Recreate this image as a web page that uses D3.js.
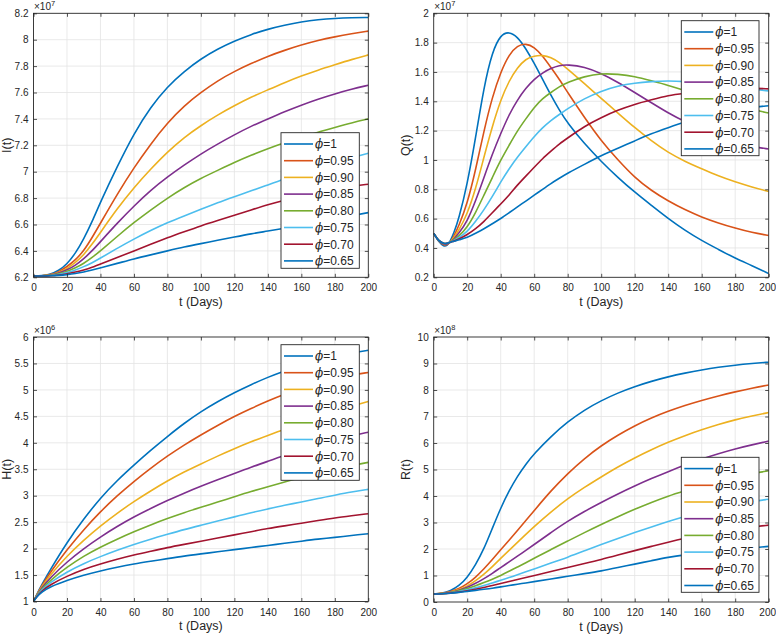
<!DOCTYPE html>
<html><head><meta charset="utf-8">
<script src="https://cdn.jsdelivr.net/npm/d3@7"></script>
<style>
html,body{margin:0;padding:0;background:#fff;}
svg text{font-family:"Liberation Sans",Arial,Helvetica,sans-serif;fill:#262626;}
</style></head>
<body><svg id="c" width="776" height="635"></svg>
<script>
const phiLabels = ["1","0.95","0.90","0.85","0.80","0.75","0.70","0.65"];
const colors = ["#0072BD","#D95319","#EDB120","#7E2F8E","#77AC30","#4DBEEE","#A2142F","#0072BD"];
const xTicks = [0,20,40,60,80,100,120,140,160,180,200];

// I(t), x1e7
const tI = [0,5,10,15,20,25,30,35,40,50,60,70,80,90,100,110,120,130,140,150,160,170,180,190,200];
const I_1    = [6.21,6.212,6.222,6.25,6.30,6.38,6.49,6.62,6.77,7.04,7.29,7.49,7.645,7.76,7.855,7.93,7.99,8.04,8.08,8.11,8.135,8.152,8.162,8.167,8.168];
const I_095  = [6.21,6.211,6.218,6.24,6.28,6.33,6.40,6.50,6.61,6.83,7.03,7.21,7.37,7.50,7.60,7.69,7.76,7.82,7.875,7.92,7.96,7.995,8.022,8.045,8.065];
const I_090  = [6.21,6.211,6.216,6.235,6.265,6.31,6.37,6.45,6.54,6.72,6.88,7.02,7.15,7.26,7.35,7.43,7.50,7.565,7.62,7.675,7.725,7.77,7.81,7.85,7.885];
const I_085  = [6.21,6.21,6.215,6.23,6.255,6.29,6.34,6.40,6.47,6.61,6.74,6.86,6.96,7.05,7.135,7.21,7.28,7.345,7.40,7.455,7.505,7.55,7.59,7.625,7.655];
const I_080  = [6.21,6.21,6.214,6.225,6.245,6.27,6.305,6.35,6.40,6.51,6.615,6.71,6.80,6.88,6.95,7.01,7.07,7.125,7.175,7.22,7.26,7.30,7.335,7.37,7.40];
const I_075  = [6.21,6.21,6.213,6.22,6.235,6.255,6.28,6.31,6.345,6.42,6.49,6.555,6.615,6.665,6.715,6.765,6.81,6.855,6.90,6.945,6.985,7.03,7.07,7.105,7.14];
const I_070  = [6.21,6.21,6.212,6.217,6.226,6.24,6.255,6.275,6.30,6.35,6.40,6.45,6.50,6.545,6.59,6.63,6.67,6.71,6.75,6.785,6.815,6.845,6.87,6.89,6.905];
const I_065  = [6.21,6.21,6.211,6.214,6.22,6.228,6.24,6.255,6.272,6.305,6.34,6.37,6.40,6.43,6.455,6.48,6.505,6.53,6.55,6.572,6.595,6.62,6.643,6.667,6.69];
const I_yTicks = [6.2,6.4,6.6,6.8,7,7.2,7.4,7.6,7.8,8,8.2];

// Q(t), x1e7
const tQ = [0,3,6,8,10,12,15,20,25,30,35,40,45,50,55,60,65,70,75,80,90,100,110,120,130,140,150,160,170,180,190,200];
const Q_1    = [0.50,0.44,0.41,0.415,0.45,0.50,0.60,0.83,1.15,1.50,1.74,1.855,1.875,1.84,1.76,1.66,1.55,1.44,1.34,1.25,1.11,0.99,0.88,0.78,0.69,0.60,0.52,0.45,0.39,0.33,0.28,0.225];
const Q_095  = [0.50,0.445,0.42,0.42,0.44,0.48,0.55,0.70,0.93,1.20,1.43,1.60,1.72,1.78,1.795,1.77,1.71,1.63,1.55,1.46,1.29,1.13,1.00,0.88,0.79,0.72,0.66,0.61,0.57,0.535,0.505,0.485];
const Q_090  = [0.50,0.445,0.425,0.425,0.44,0.47,0.52,0.63,0.80,1.02,1.23,1.41,1.54,1.63,1.69,1.71,1.715,1.70,1.665,1.62,1.52,1.42,1.32,1.22,1.13,1.05,0.99,0.94,0.89,0.85,0.815,0.785];
const Q_085  = [0.50,0.445,0.425,0.425,0.44,0.46,0.50,0.58,0.72,0.88,1.04,1.18,1.31,1.41,1.49,1.55,1.595,1.625,1.645,1.65,1.635,1.59,1.53,1.46,1.39,1.32,1.26,1.21,1.16,1.12,1.09,1.075];
const Q_080  = [0.50,0.445,0.43,0.43,0.44,0.455,0.48,0.54,0.64,0.76,0.88,1.00,1.10,1.20,1.28,1.36,1.42,1.46,1.50,1.53,1.57,1.59,1.585,1.57,1.54,1.51,1.47,1.44,1.40,1.37,1.345,1.32];
const Q_075  = [0.50,0.445,0.43,0.43,0.44,0.45,0.47,0.51,0.58,0.66,0.75,0.85,0.94,1.02,1.09,1.16,1.22,1.27,1.31,1.35,1.42,1.47,1.505,1.525,1.535,1.54,1.535,1.525,1.51,1.50,1.485,1.47];
const Q_070  = [0.50,0.445,0.43,0.43,0.44,0.445,0.46,0.49,0.53,0.58,0.64,0.70,0.76,0.83,0.89,0.95,1.01,1.06,1.11,1.15,1.23,1.29,1.34,1.38,1.41,1.44,1.455,1.47,1.48,1.485,1.49,1.485];
const Q_065  = [0.50,0.445,0.43,0.43,0.44,0.445,0.455,0.47,0.50,0.53,0.565,0.60,0.64,0.68,0.72,0.76,0.80,0.84,0.875,0.91,0.97,1.03,1.08,1.13,1.18,1.22,1.26,1.29,1.32,1.34,1.36,1.37];
const Q_yTicks = [0.2,0.4,0.6,0.8,1,1.2,1.4,1.6,1.8,2];

// H(t), x1e6
const tH = [0,2,5,10,20,30,40,50,60,70,80,90,100,110,120,130,140,150,160,170,180,190,200];
const H_1    = [1.0,1.14,1.32,1.60,2.12,2.56,2.96,3.29,3.58,3.86,4.12,4.37,4.59,4.78,4.95,5.10,5.24,5.36,5.47,5.56,5.635,5.70,5.75];
const H_095  = [1.0,1.13,1.30,1.55,1.98,2.36,2.70,3.00,3.27,3.52,3.75,3.96,4.15,4.33,4.50,4.65,4.79,4.92,5.03,5.13,5.21,5.28,5.33];
const H_090  = [1.0,1.13,1.28,1.50,1.86,2.16,2.43,2.67,2.89,3.09,3.28,3.45,3.60,3.75,3.89,4.02,4.14,4.26,4.37,4.48,4.59,4.69,4.78];
const H_085  = [1.0,1.12,1.26,1.45,1.75,2.00,2.22,2.42,2.60,2.76,2.91,3.05,3.18,3.30,3.42,3.54,3.65,3.76,3.86,3.96,4.05,4.13,4.20];
const H_080  = [1.0,1.12,1.24,1.40,1.65,1.86,2.03,2.18,2.32,2.45,2.57,2.68,2.78,2.88,2.98,3.08,3.17,3.26,3.35,3.43,3.50,3.57,3.63];
const H_075  = [1.0,1.11,1.22,1.36,1.56,1.72,1.85,1.97,2.08,2.18,2.27,2.36,2.44,2.52,2.60,2.68,2.75,2.82,2.88,2.95,3.01,3.07,3.12];
const H_070  = [1.0,1.10,1.20,1.32,1.48,1.61,1.71,1.80,1.88,1.95,2.02,2.08,2.14,2.20,2.26,2.32,2.38,2.43,2.48,2.53,2.58,2.62,2.66];
const H_065  = [1.0,1.09,1.18,1.28,1.40,1.50,1.58,1.65,1.71,1.76,1.81,1.86,1.90,1.94,1.98,2.02,2.06,2.10,2.14,2.18,2.21,2.25,2.28];
const H_yTicks = [1,1.5,2,2.5,3,3.5,4,4.5,5,5.5,6];

// R(t), x1e8
const tR = [0,5,10,15,20,25,30,35,40,45,50,55,60,70,80,90,100,110,120,130,140,150,160,170,180,190,200];
const R_1    = [0.30,0.33,0.42,0.60,0.92,1.40,2.00,2.78,3.55,4.20,4.75,5.20,5.60,6.25,6.80,7.25,7.60,7.89,8.13,8.33,8.50,8.64,8.76,8.86,8.94,9.00,9.05];
const R_095  = [0.30,0.32,0.39,0.50,0.68,0.93,1.25,1.60,1.97,2.33,2.70,3.07,3.45,4.20,4.85,5.42,5.90,6.30,6.65,6.95,7.20,7.42,7.61,7.78,7.93,8.07,8.19];
const R_090  = [0.30,0.32,0.37,0.46,0.60,0.80,1.05,1.33,1.65,1.95,2.25,2.55,2.85,3.40,3.90,4.33,4.72,5.10,5.44,5.75,6.03,6.28,6.50,6.70,6.88,7.02,7.15];
const R_085  = [0.30,0.31,0.36,0.44,0.55,0.70,0.88,1.08,1.30,1.51,1.73,1.95,2.17,2.62,3.05,3.42,3.76,4.08,4.38,4.66,4.92,5.17,5.40,5.60,5.78,5.93,6.07];
const R_080  = [0.30,0.31,0.35,0.42,0.50,0.61,0.73,0.86,1.00,1.16,1.32,1.48,1.65,1.98,2.30,2.62,2.93,3.22,3.50,3.76,4.00,4.20,4.40,4.57,4.72,4.85,4.95];
const R_075  = [0.30,0.31,0.34,0.39,0.46,0.53,0.62,0.72,0.82,0.92,1.03,1.14,1.25,1.47,1.69,1.93,2.17,2.40,2.62,2.83,3.04,3.23,3.40,3.55,3.68,3.79,3.88];
const R_070  = [0.30,0.31,0.33,0.37,0.42,0.48,0.55,0.62,0.70,0.77,0.85,0.92,1.00,1.15,1.30,1.45,1.60,1.77,1.94,2.10,2.26,2.41,2.54,2.65,2.75,2.83,2.90];
const R_065  = [0.30,0.31,0.33,0.36,0.40,0.44,0.48,0.52,0.57,0.62,0.67,0.72,0.77,0.87,0.97,1.07,1.17,1.30,1.43,1.56,1.69,1.78,1.85,1.92,1.98,2.04,2.10];
const R_yTicks = [0,1,2,3,4,5,6,7,8,9,10];

const panels = [
  {t:tI, s:[I_1,I_095,I_090,I_085,I_080,I_075,I_070,I_065], yd:[6.2,8.2], yt:I_yTicks, ylab:"I(t)", exp:"7",
   box:{l:33.5,r:368.3,t:13.3,b:277.3}, leg:{x:281,y:132.7,w:78.3,h:135.6}, ylx:10.5},
  {t:tQ, s:[Q_1,Q_095,Q_090,Q_085,Q_080,Q_075,Q_070,Q_065], yd:[0.2,2], yt:Q_yTicks, ylab:"Q(t)", exp:"7",
   box:{l:433.7,r:768.7,t:13.3,b:277.3}, leg:{x:681.3,y:20.7,w:77.7,h:135}, ylx:409.5},
  {t:tH, s:[H_1,H_095,H_090,H_085,H_080,H_075,H_070,H_065], yd:[1,6], yt:H_yTicks, ylab:"H(t)", exp:"6",
   box:{l:33.5,r:368.3,t:337,b:601.5}, leg:{x:281,y:344.7,w:78.3,h:135.6}, ylx:10.5},
  {t:tR, s:[R_1,R_095,R_090,R_085,R_080,R_075,R_070,R_065], yd:[0,10], yt:R_yTicks, ylab:"R(t)", exp:"8",
   box:{l:433.7,r:768.7,t:337,b:602}, leg:{x:681.3,y:457.3,w:77.7,h:135}, ylx:409.5}
];

const svg = d3.select("#c");
const axisCol = "#262626";
const tickFS = 10;

panels.forEach(p => {
  const B = p.box;
  const x = d3.scaleLinear().domain([0,200]).range([B.l,B.r]);
  const y = d3.scaleLinear().domain(p.yd).range([B.b,B.t]);
  const g = svg.append("g");
  g.append("g").selectAll("line").data(xTicks.slice(1,-1)).join("line")
    .attr("x1",d=>x(d)).attr("x2",d=>x(d)).attr("y1",B.t).attr("y2",B.b)
    .attr("stroke","#e3e3e3").attr("stroke-width",0.8);
  g.append("g").selectAll("line").data(p.yt.slice(1,-1)).join("line")
    .attr("y1",d=>y(d)).attr("y2",d=>y(d)).attr("x1",B.l).attr("x2",B.r)
    .attr("stroke","#e3e3e3").attr("stroke-width",0.8);
  const clipId = "clip"+p.ylab.replace(/[()]/g,"");
  svg.append("clipPath").attr("id",clipId).append("rect")
    .attr("x",B.l).attr("y",B.t).attr("width",B.r-B.l).attr("height",B.b-B.t);
  const line = d3.line().x((d,i)=>x(p.t[i])).y(d=>y(d)).curve(d3.curveBasis);
  const cg = g.append("g").attr("clip-path",`url(#${clipId})`);
  p.s.forEach((arr,k)=>{
    cg.append("path").attr("d",line(arr)).attr("fill","none")
      .attr("stroke",colors[k]).attr("stroke-width",1.6);
  });
  const tl = 3.5;
  const ax = g.append("g").attr("transform",`translate(0,${B.b})`)
    .call(d3.axisBottom(x).tickValues(xTicks).tickSizeInner(-tl).tickSizeOuter(0).tickPadding(7).tickFormat(d3.format("d")));
  const ay = g.append("g").attr("transform",`translate(${B.l},0)`)
    .call(d3.axisLeft(y).tickValues(p.yt).tickSizeInner(-tl).tickSizeOuter(0).tickPadding(5).tickFormat(d=>d3.format("~g")(d)));
  const at = g.append("g").attr("transform",`translate(0,${B.t})`)
    .call(d3.axisTop(x).tickValues(xTicks).tickSizeInner(-tl).tickSizeOuter(0).tickFormat(""));
  const ar = g.append("g").attr("transform",`translate(${B.r},0)`)
    .call(d3.axisRight(y).tickValues(p.yt).tickSizeInner(-tl).tickSizeOuter(0).tickFormat(""));
  [ax,ay,at,ar].forEach(a=>{
    a.select(".domain").remove();
    a.selectAll("line").attr("stroke",axisCol).attr("stroke-width",0.8);
    a.selectAll("text").attr("font-size",tickFS).attr("fill",axisCol)
      .style("font-family","'Liberation Sans',Arial,sans-serif");
  });
  if (B.r > 700) ax.selectAll("text").filter(d=>d===200).attr("dx",-1.5);
  g.append("rect").attr("x",B.l).attr("y",B.t).attr("width",B.r-B.l).attr("height",B.b-B.t)
    .attr("fill","none").attr("stroke",axisCol).attr("stroke-width",0.9);
  const ex = g.append("text").attr("x",B.l+0.5).attr("y",B.t-3).attr("font-size",10);
  ex.append("tspan").text("\u00D710");
  ex.append("tspan").attr("dy",-4).attr("font-size",7.5).text(p.exp);
  g.append("text").attr("x",(B.l+B.r)/2).attr("y",B.b+28.5).attr("text-anchor","middle")
    .attr("font-size",12.5).text("t (Days)");
  g.append("text").attr("transform",`translate(${p.ylx},${(B.t+B.b)/2}) rotate(-90)`)
    .attr("text-anchor","middle").attr("font-size",12.5).text(p.ylab);
  const L = p.leg;
  const lg = g.append("g");
  lg.append("rect").attr("x",L.x).attr("y",L.y).attr("width",L.w).attr("height",L.h)
    .attr("fill","#fff").attr("stroke",axisCol).attr("stroke-width",0.9);
  phiLabels.forEach((lab,k)=>{
    const cy = L.y + 11.3 + k*16.7;
    lg.append("line").attr("x1",L.x+3).attr("x2",L.x+32).attr("y1",cy).attr("y2",cy)
      .attr("stroke",colors[k]).attr("stroke-width",1.6);
    const tx = lg.append("text").attr("x",L.x+34).attr("y",cy+4.3).attr("font-size",12);
    tx.append("tspan").attr("font-style","italic").style("font-family","'DejaVu Serif',serif").text("\u03D5");
    tx.append("tspan").text("="+lab);
  });
});
</script></body></html>
